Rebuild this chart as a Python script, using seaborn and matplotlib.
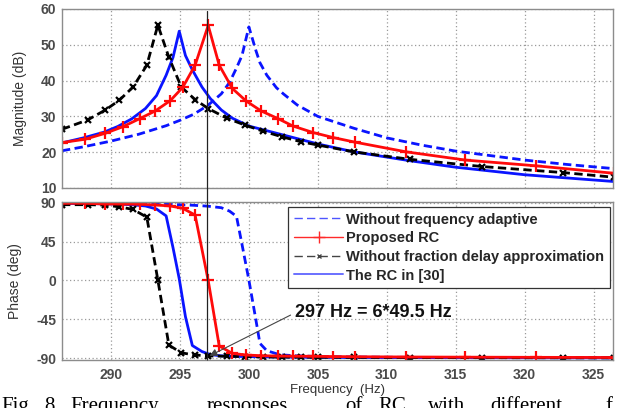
import numpy as np
import pandas as pd
import matplotlib
matplotlib.use("Agg")
import matplotlib.pyplot as plt
import seaborn as sns
from matplotlib.patches import ConnectionPatch
from matplotlib.legend_handler import HandlerLine2D
from matplotlib.lines import Line2D

# ---------------- data ----------------
# Without frequency adaptive (blue dashed)
wfa_x = [286.45, 288.0, 290.0, 292.0, 294.0, 295.0, 296.0, 297.0, 298.0, 298.6, 299.1, 299.5, 300.0,
         300.5, 300.8, 301.3, 302.0, 302.5, 303.5, 305.0, 307.6, 310.0, 312.5, 315.0, 320.0, 323.0, 326.5]
wfa_mag = [20.4, 21.5, 23.1, 25.0, 27.4, 28.9, 30.6, 33.0, 36.3, 39.5, 43.5, 47.0, 55.0,
           48.5, 45.0, 41.5, 38.0, 36.3, 33.2, 30.0, 26.7, 24.0, 22.0, 20.3, 17.8, 16.6, 15.4]
wfa_phase = [89.5, 89.4, 89.2, 88.9, 88.4, 88.0, 87.3, 86.3, 84.5, 80.5, 74.5, 42.0, 0.5,
             -45.0, -73.0, -81.5, -85.0, -86.5, -87.5, -88.2, -88.8, -89.1, -89.3, -89.4, -89.6, -89.7, -89.8]

# Proposed RC (red, +)
prc_x = [286.45, 288.1, 289.6, 290.85, 292.1, 293.2, 294.3, 295.2, 296.1, 297.05, 297.85, 298.8,
         299.8, 300.9, 302.1, 303.2, 304.65, 306.1, 307.7, 311.4, 315.7, 320.8, 326.5]
prc_mag = [22.7, 23.6, 25.3, 27.1, 29.4, 31.5, 34.4, 38.1, 44.3, 55.4, 44.3, 37.8,
           34.3, 31.5, 29.4, 27.3, 25.5, 24.1, 22.8, 20.1, 17.8, 16.2, 14.1]
prc_phase = [89.6, 89.6, 88.8, 88.8, 88.5, 87.7, 86.5, 83.8, 76.0, 0.0, -76.0, -84.6,
             -86.5, -87.3, -87.7, -87.9, -88.0, -88.3, -88.5, -88.8, -89.0, -89.2, -89.4]

# Without fraction delay approximation (black dashed, x)
wfd_x = [286.45, 288.3, 289.6, 290.6, 291.6, 292.6, 293.4, 294.2, 295.1, 296.1, 297.05, 298.4,
         299.7, 301.0, 302.4, 303.8, 305.0, 307.6, 311.7, 316.9, 322.8, 326.5]
wfd_mag = [26.4, 29.0, 31.8, 34.5, 38.2, 44.3, 55.5, 46.5, 38.2, 34.7, 32.2, 29.5,
           27.6, 25.9, 24.3, 22.9, 22.0, 20.1, 18.0, 16.0, 14.3, 13.0]
wfd_phase = [88.0, 88.0, 87.5, 85.5, 82.5, 73.5, 0.5, -75.0, -84.0, -86.5, -87.5, -88.0,
             -88.4, -88.7, -88.9, -89.0, -89.1, -89.3, -89.4, -89.6, -89.7, -89.8]

# The RC in [30] (blue solid)
r30_x = [286.45, 288.0, 289.5, 290.5, 291.5, 292.5, 293.3, 294.0, 294.5, 294.95, 295.4, 295.9, 296.6,
         297.2, 298.0, 298.8, 300.0, 301.3, 302.5, 304.0, 305.0, 307.6, 311.7, 315.0, 320.0, 326.5]
r30_mag = [22.6, 24.0, 25.6, 27.2, 29.3, 32.2, 35.8, 41.5, 46.5, 53.8, 47.0, 43.0, 38.2,
           35.0, 31.8, 29.5, 27.3, 26.0, 24.8, 23.3, 22.3, 20.1, 17.6, 15.8, 13.7, 11.8]
r30_phase = [89.5, 89.3, 89.0, 88.7, 88.0, 86.5, 83.0, 75.0, 38.0, 2.0, -42.0, -75.5, -82.5,
             -86.0, -87.5, -88.0, -88.4, -88.7, -88.9, -89.1, -89.2, -89.4, -89.5, -89.6, -89.7, -89.8]

labels = ["Without frequency adaptive", "Proposed RC",
          "Without fraction delay approximation", "The RC in [30]"]
x_ticks = [290, 295, 300, 305, 310, 315, 320, 325]
mag_ticks = [10, 20, 30, 40, 50, 60]
phase_ticks = [-90, -45, 0, 45, 90]
annot_text = "297 Hz = 6*49.5 Hz"
caption_words = ["Fig.", "8.", "Frequency", "responses", "of", "RC", "with", "different", "f"]

# ---------------- figure ----------------
sns.set_style("white")
plt.rcParams["font.family"] = ["Liberation Sans", "DejaVu Sans"]
plt.rcParams["axes.unicode_minus"] = False

W, H = 627, 408
fig = plt.figure(figsize=(W / 100, H / 100), dpi=100)
L, R = 62, 613
ax1 = fig.add_axes([L / W, 1 - 188 / H, (R - L) / W, (188 - 9) / H])
ax2 = fig.add_axes([L / W, 1 - 360 / H, (R - L) / W, (360 - 201.5) / H])

styles = [
    dict(xs=wfa_x, m=wfa_mag, p=wfa_phase, color="#0a14ff", linestyle=(0, (3, 1.6)), lw=2.0),
    dict(xs=r30_x, m=r30_mag, p=r30_phase, color="#0a14ff", linestyle="-", lw=2.0),
    dict(xs=wfd_x, m=wfd_mag, p=wfd_phase, color="#000000", linestyle=(0, (3, 1.6)), lw=2.0,
         marker="x", ms=4.5, mew=1.6, mec="#000000"),
    dict(xs=prc_x, m=prc_mag, p=prc_phase, color="#ff0a0a", linestyle="-", lw=2.0,
         marker="+", ms=9, mew=1.6, mec="#ff0a0a"),
]

for st in styles:
    st = dict(st)
    xs, m, p = st.pop("xs"), st.pop("m"), st.pop("p")
    st.setdefault("mec", st["color"])
    st.setdefault("mew", 0)
    df = pd.DataFrame({"f": xs, "mag": m, "ph": p})
    sns.lineplot(data=df, x="f", y="mag", ax=ax1, estimator=None, sort=False, legend=False, **st)
    sns.lineplot(data=df, x="f", y="ph", ax=ax2, estimator=None, sort=False, legend=False, **st)

for ax in (ax1, ax2):
    ax.set_xlim(286.45, 326.4)
    ax.set_xticks(x_ticks)
    ax.grid(True, linestyle=(0, (1, 2)), color="#9a9a9a", lw=0.9)
    ax.set_axisbelow(True)
    for s in ax.spines.values():
        s.set_color("#8c8c8c")
        s.set_linewidth(1.0)
    ax.tick_params(direction="in", length=3, width=0.8, color="#8c8c8c",
                   labelsize=10, labelcolor="#4a4a4a", pad=4)
    ax.set_xlabel("")
    ax.set_ylabel("")

ax1.set_ylim(10, 60)
ax1.set_yticks(mag_ticks)
ax1.set_yticklabels([str(v) for v in mag_ticks])
ax1.set_xticklabels([])
ax2.set_ylim(-92.3, 91.7)
ax2.set_yticks(phase_ticks)
ax2.set_yticklabels([str(v) for v in phase_ticks])
ax2.set_xticks(x_ticks)
ax2.set_xticklabels([str(v) for v in x_ticks])
for ax in (ax1, ax2):
    for t in ax.get_xticklabels() + ax.get_yticklabels():
        t.set_fontweight("bold")
ax2.tick_params(axis="x", pad=6)

ax1.set_ylabel("Magnitude (dB)", fontsize=10, color="#333333")
ax1.yaxis.set_label_coords(-0.064, 0.5)
ax2.set_ylabel("Phase (deg)", fontsize=10, color="#333333")
ax2.yaxis.set_label_coords(-0.072, 0.5)
ax2.set_xlabel("Frequency  (Hz)", fontsize=9.5, color="#333333")
ax2.xaxis.set_label_coords(0.5, -0.15)

# vertical marker line at 297 Hz spanning both panels
con = ConnectionPatch(xyA=(297.0, 59.3), coordsA=ax1.transData,
                      xyB=(297.0, -92.3), coordsB=ax2.transData,
                      color="#222222", lw=0.9)
fig.add_artist(con)

# annotation
ax2.annotate(annot_text, xy=(297.15, -87.5), xytext=(303.35, -37.5), textcoords="data",
             ha="left", va="center", fontsize=13, fontweight="bold", color="#111111",
             arrowprops=dict(arrowstyle="-|>", color="#444444", lw=0.8, relpos=(0, 0.5),
                             shrinkA=1, shrinkB=0, mutation_scale=11))

# legend
class EndMarkerHandler(HandlerLine2D):
    def get_xdata(self, legend, xdescent, ydescent, width, height, fontsize):
        xdata, xm = super().get_xdata(legend, xdescent, ydescent, width, height, fontsize)
        return xdata, [xdata[-1]]

handles = [
    Line2D([], [], color="#4d55ff", lw=1.0, linestyle=(0, (6, 3))),
    Line2D([], [], color="#ff2a2a", lw=1.0, marker="+", ms=9, mew=1.0),
    Line2D([], [], color="#444444", lw=1.0, linestyle=(0, (6, 3)), marker="x", ms=3.5, mew=1.0),
    Line2D([], [], color="#6a70ff", lw=1.4),
]
leg = ax2.legend(handles, labels, loc="upper right", bbox_to_anchor=(0.995, 0.967),
                 borderaxespad=0, frameon=True, fancybox=False, edgecolor="#333333",
                 framealpha=1, facecolor="white", prop=dict(weight="bold", size=10.5),
                 handlelength=3.4, handletextpad=0.2, labelspacing=0.32, borderpad=0.4,
                 numpoints=1, handler_map={h: EndMarkerHandler() for h in handles})
leg.get_frame().set_linewidth(0.9)

# caption (partly cut by the bottom edge, as in the reference)
cap_x = [1, 44, 70, 207, 345, 378, 428, 490, 605]
for wd, xp in zip(caption_words, cap_x):
    fig.text(xp / W, -0.008, wd, fontsize=15, family=["Liberation Serif", "DejaVu Serif"],
             color="#000000", ha="left", va="baseline")

fig.savefig("out.png", dpi=100)
